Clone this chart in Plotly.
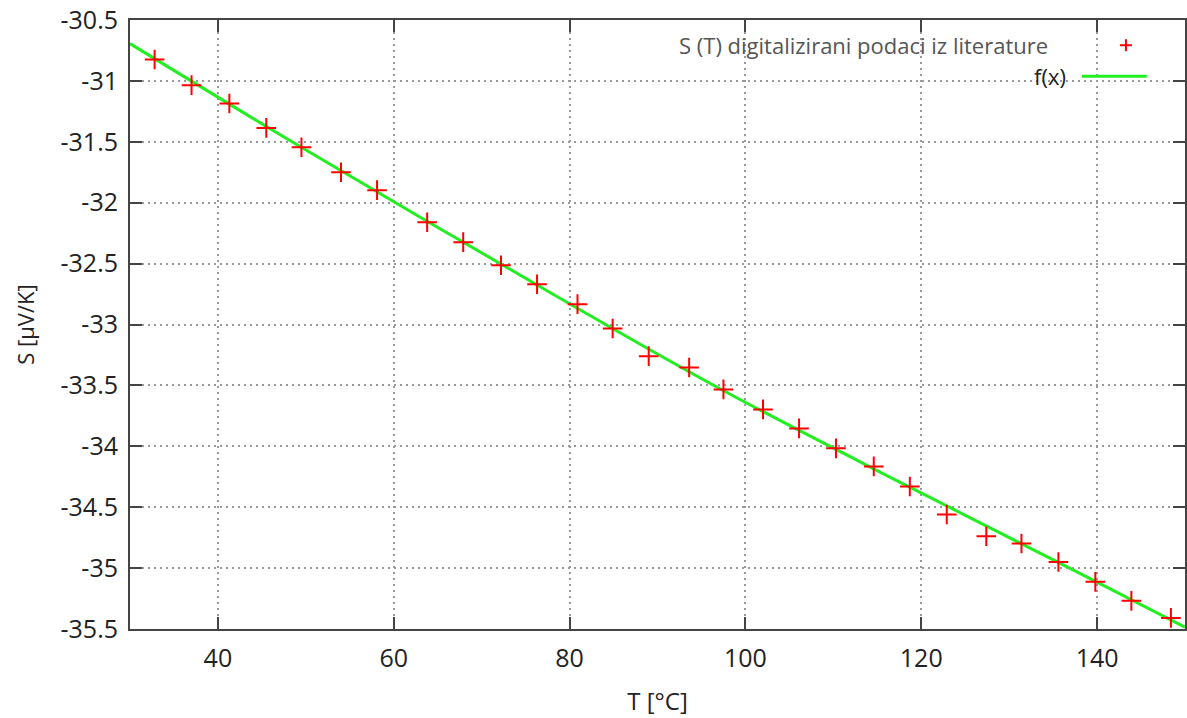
import plotly.graph_objects as go

T_data = [32.8, 37.0, 41.3, 45.5, 49.5, 54.0, 58.1, 63.8, 67.9, 72.2, 76.3, 80.9, 84.9, 89.0,
          93.6, 97.5, 102.0, 106.1, 110.3, 114.6, 118.7, 122.9, 127.4, 131.4, 135.6, 139.8,
          143.9, 148.4]
S_data = [-30.824, -31.035, -31.186, -31.386, -31.545, -31.750, -31.897, -32.160, -32.324,
          -32.513, -32.669, -32.833, -33.033, -33.260, -33.353, -33.533, -33.697, -33.853,
          -34.017, -34.165, -34.330, -34.560, -34.738, -34.798, -34.950, -35.113, -35.269,
          -35.409]

# Fitted curve f(x)
T_fit = [30.0, 49.1, 78.9, 97.0, 117.5, 135.7, 150.0]
S_fit = [-30.694, -31.528, -32.784, -33.523, -34.292, -34.957, -35.486]

x_tickvals = [40, 60, 80, 100, 120, 140]
x_ticktext = ["40", "60", "80", "100", "120", "140"]
y_tickvals = [-30.5, -31, -31.5, -32, -32.5, -33, -33.5, -34, -34.5, -35, -35.5]
y_ticktext = ["-30.5", "-31", "-31.5", "-32", "-32.5", "-33", "-33.5", "-34", "-34.5", "-35", "-35.5"]

legend_points = "S (T) digitalizirani podaci iz literature"
legend_fit = "f(x)"

FONT = "Open Sans"
TXT = "#222222"
AX = "#444444"
RED = "#ff0000"
GREEN = "#22ee22"

fig = go.Figure()
fig.add_trace(go.Scatter(x=T_fit, y=S_fit, mode="lines", line=dict(color=GREEN, width=3, shape="spline"),
                         name=legend_fit, showlegend=False))
fig.add_trace(go.Scatter(x=T_data, y=S_data, mode="markers",
                         marker=dict(symbol="cross-thin", size=14, line=dict(color=RED, width=2)),
                         name=legend_points, showlegend=False))

axis_common = dict(showline=True, linecolor=AX, linewidth=2, mirror="allticks",
                   ticks="inside", ticklen=12, tickwidth=2, tickcolor=AX,
                   showgrid=True, gridcolor="#999999", gridwidth=1.5, griddash="2px,4px",
                   zeroline=False, tickfont=dict(family=FONT, size=25, color=TXT))

fig.update_xaxes(range=[30, 150], tickvals=x_tickvals, ticktext=x_ticktext,
                 title=dict(text="T [°C]", font=dict(family=FONT, size=24, color=TXT), standoff=20),
                 ticklabelstandoff=6, **axis_common)
fig.update_yaxes(range=[-35.5, -30.5], tickvals=y_tickvals, ticktext=y_ticktext,
                 title=dict(text="S [μV/K]", font=dict(family=FONT, size=22, color=TXT), standoff=20),
                 ticklabelstandoff=5, **axis_common)

# white key box hiding the grid (like gnuplot's key)
shapes = [dict(type="rect", xref="paper", yref="paper", x0=0.4425, x1=0.998, y0=0.888, y1=0.998,
               fillcolor="white", line=dict(width=0), layer="between"),
          dict(type="line", xref="paper", yref="paper", x0=0.9022, x1=0.9638, y0=0.9077, y1=0.9077,
               line=dict(color=GREEN, width=3)),
          ]
# legend "+" sample built from two strokes
cx, cy = 0.944, 0.9586
dx, dy = 6 / 1055, 6 / 609
shapes.append(dict(type="line", xref="paper", yref="paper", x0=cx - dx, x1=cx + dx, y0=cy, y1=cy,
                   line=dict(color=RED, width=2)))
shapes.append(dict(type="line", xref="paper", yref="paper", x0=cx, x1=cx, y0=cy - dy, y1=cy + dy,
                   line=dict(color=RED, width=2)))

annotations = [
    dict(text=legend_points, xref="paper", yref="paper", x=0.872, y=0.9586, xanchor="right",
         yanchor="middle", showarrow=False, font=dict(family=FONT, size=22, color="#555555")),
    dict(text=legend_fit, xref="paper", yref="paper", x=0.889, y=0.9077, xanchor="right",
         yanchor="middle", showarrow=False, font=dict(family=FONT, size=22, color=TXT)),
]

fig.update_layout(width=1187, height=718, margin=dict(l=130, r=2, t=20, b=89, autoexpand=False),
                  plot_bgcolor="white", paper_bgcolor="white", shapes=shapes, annotations=annotations,
                  showlegend=False)

fig.write_html("out.html", config={"displayModeBar": False},
               post_script="document.body.style.margin='0';document.body.style.overflow='hidden';")
